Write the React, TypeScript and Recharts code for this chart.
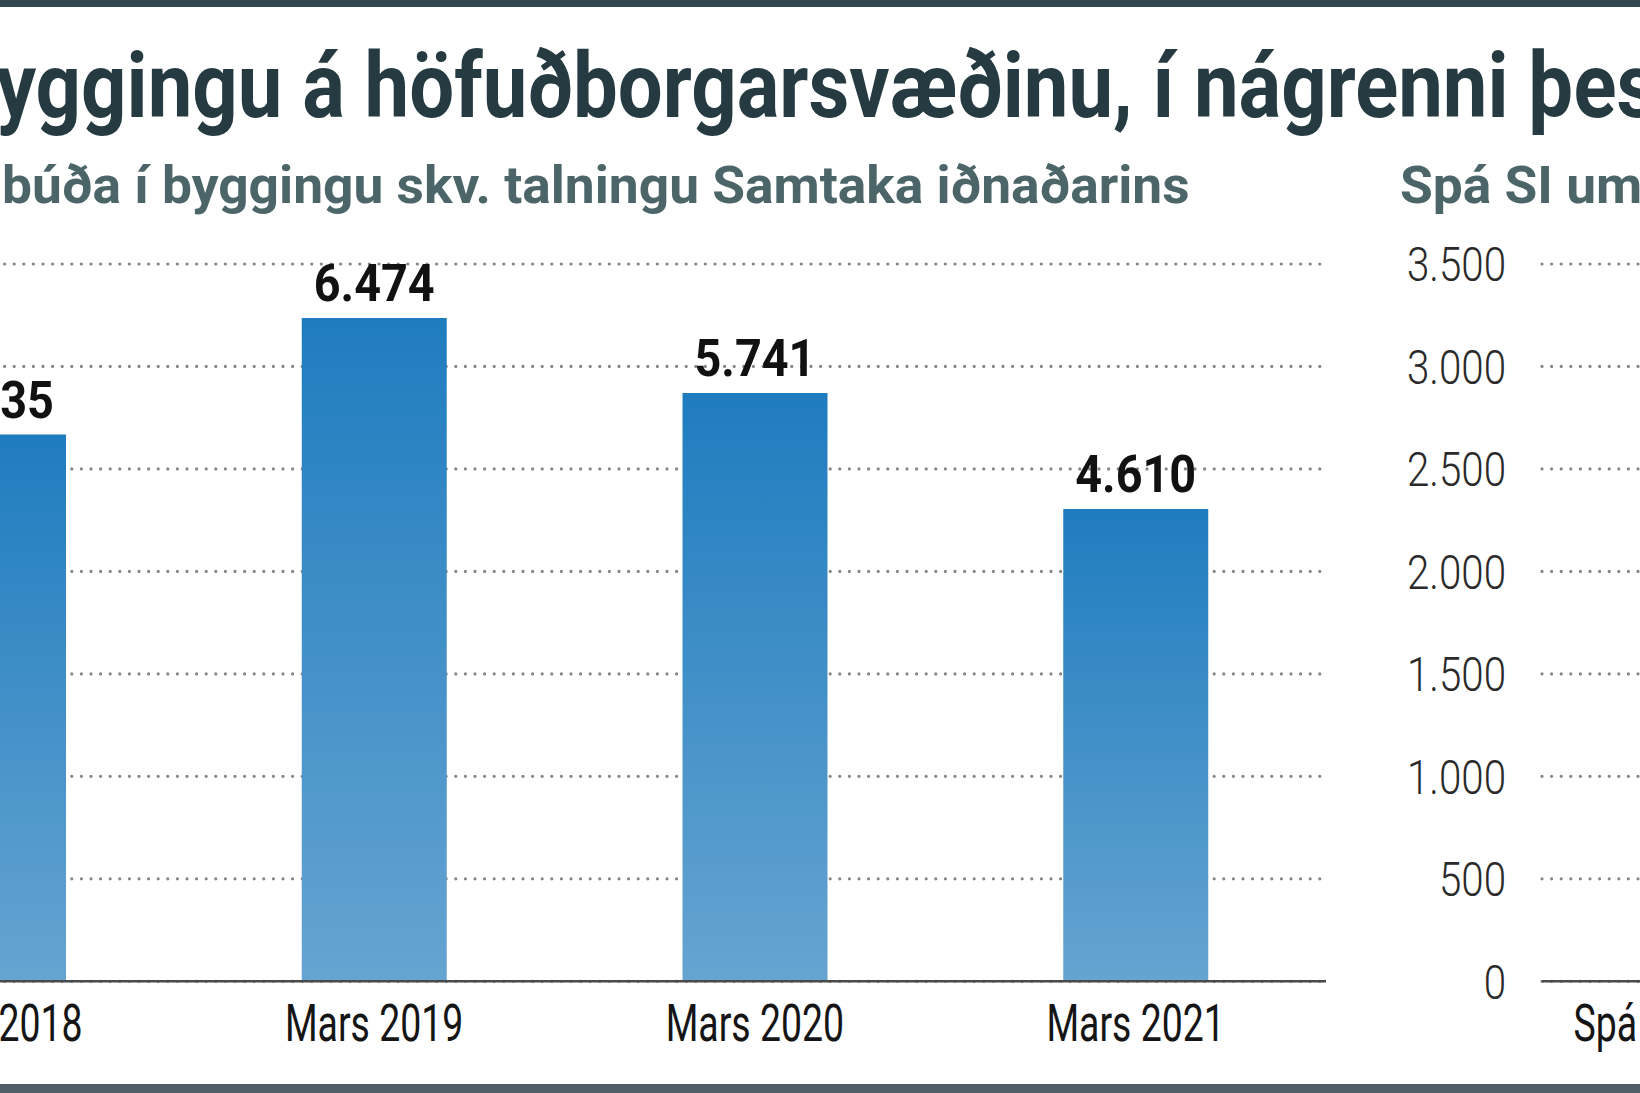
import React from "react";
import { Bar, BarChart, CartesianGrid, LabelList, XAxis, YAxis } from "recharts";

// Íbúðir í byggingu (talning SI)
const months = ["Mars 2018", "Mars 2019", "Mars 2020", "Mars 2021"];
const underConstruction = [5335, 6474, 5741, 4610];
const leftTicks = [0, 1000, 2000, 3000, 4000, 5000, 6000, 7000];

// Spá SI – only the axis is inside the crop
const forecastYears = ["Spá 2021", "Spá 2022", "Spá 2023"];
const forecastValues: (number | null)[] = [null, null, null];
const rightTicks = [0, 500, 1000, 1500, 2000, 2500, 3000, 3500];

const leftData = months.map((m, i) => ({ month: m, value: underConstruction[i] }));
const rightData = forecastYears.map((m, i) => ({ month: m, value: forecastValues[i] }));

const FONT = "Roboto, 'Liberation Sans', Arial, sans-serif";
const PLOT_TOP = 264.4;
const PLOT_H = 717.3;
const TOP_PAD = 20;
const XAXIS_H = 100;
const CHART_H = TOP_PAD + PLOT_H + XAXIS_H;

const fmt = (v: number) => String(v).replace(/\B(?=(\d{3})+(?!\d))/g, ".");

function CategoryTick(props: any) {
  const { x, y, payload } = props;
  return (
    <g transform={`translate(${x},${y + 60})`}>
      <text transform="scale(0.72,1)" textAnchor="middle" fontSize={52} fill="#151515" fontFamily={FONT}>
        {payload.value}
      </text>
    </g>
  );
}

function ValueTick(props: any) {
  const { x, y, payload } = props;
  return (
    <g transform={`translate(${x},${y})`}>
      <text
        transform="scale(0.84,1)"
        textAnchor="end"
        dy="0.36em"
        fontSize={48}
        fontWeight={300}
        fill="#2a2a2a"
        fontFamily={FONT}
      >
        {fmt(payload.value)}
      </text>
    </g>
  );
}

function BarValue(props: any) {
  const { x, y, width, value } = props;
  if (value == null) return null;
  return (
    <g transform={`translate(${Number(x) + Number(width) / 2},${Number(y) - 17})`}>
      <text transform="scale(0.9,1)" textAnchor="middle" fontSize={52} fontWeight={700} fill="#111" fontFamily={FONT}>
        {fmt(value)}
      </text>
    </g>
  );
}

const gridProps = {
  horizontal: true,
  vertical: false,
  stroke: "#858585",
  strokeWidth: 3.2,
  strokeDasharray: "0 9.6",
  strokeLinecap: "round" as const,
};

export default function App() {
  return (
    <div
      style={{
        position: "absolute",
        left: 0,
        top: 0,
        width: 1640,
        height: 1093,
        overflow: "hidden",
        background: "#fff",
        fontFamily: FONT,
      }}
    >
      <svg width={1640} height={1093} style={{ position: "absolute", left: 0, top: 0 }}>
        <rect x={0} y={0} width={1640} height={7} fill="#33474f" />
        <rect x={0} y={1084} width={1640} height={9} fill="#515f67" />
        <g transform="translate(-4,117) scale(0.885,1)">
          <text fontSize={90} fontWeight={700} fill="#253a41">
            yggingu á höfuðborgarsvæðinu, í nágrenni þess
          </text>
        </g>
        <g transform="translate(2,203) scale(1.025,1)">
          <text fontSize={52} fontWeight={700} fill="#4b6569">
            búða í byggingu skv. talningu Samtaka iðnaðarins
          </text>
        </g>
        <g transform="translate(1400,203) scale(1.025,1)">
          <text fontSize={52} fontWeight={700} fill="#4b6569">
            Spá SI um
          </text>
        </g>
      </svg>

      <div style={{ position: "absolute", left: -197, top: PLOT_TOP - TOP_PAD }}>
        <BarChart
          width={1523}
          height={CHART_H}
          data={leftData}
          margin={{ top: TOP_PAD, right: 0, bottom: 0, left: 0 }}
          barSize={145}
        >
          <defs>
            <linearGradient id="barFill" x1="0" y1="0" x2="0" y2="1">
              <stop offset="0%" stopColor="#1f7cbf" />
              <stop offset="100%" stopColor="#66a4d1" />
            </linearGradient>
          </defs>
          <CartesianGrid {...gridProps} />
          <YAxis hide type="number" domain={[0, 7000]} ticks={leftTicks} allowDataOverflow />
          <XAxis
            dataKey="month"
            height={XAXIS_H}
            tickLine={false}
            tickSize={0}
            tickMargin={0}
            axisLine={{ stroke: "#4a4a4a", strokeWidth: 2.5 }}
            tick={<CategoryTick />}
            interval={0}
          />
          <Bar dataKey="value" fill="url(#barFill)" isAnimationActive={false}>
            <LabelList dataKey="value" content={<BarValue />} />
          </Bar>
        </BarChart>
      </div>

      <div style={{ position: "absolute", left: 1400, top: PLOT_TOP - TOP_PAD }}>
        <BarChart
          width={802}
          height={CHART_H}
          data={rightData}
          margin={{ top: TOP_PAD, right: 0, bottom: 0, left: 0 }}
          barSize={145}
        >
          <CartesianGrid {...gridProps} />
          <YAxis
            type="number"
            width={142}
            domain={[0, 3500]}
            ticks={rightTicks}
            allowDataOverflow
            axisLine={false}
            tickLine={false}
            tickSize={0}
            tickMargin={36}
            tick={<ValueTick />}
            interval={0}
          />
          <XAxis
            dataKey="month"
            height={XAXIS_H}
            tickLine={false}
            tickSize={0}
            tickMargin={0}
            axisLine={{ stroke: "#4a4a4a", strokeWidth: 2.5 }}
            tick={<CategoryTick />}
            interval={0}
          />
          <Bar dataKey="value" fill="url(#barFill)" isAnimationActive={false} />
        </BarChart>
      </div>
    </div>
  );
}
